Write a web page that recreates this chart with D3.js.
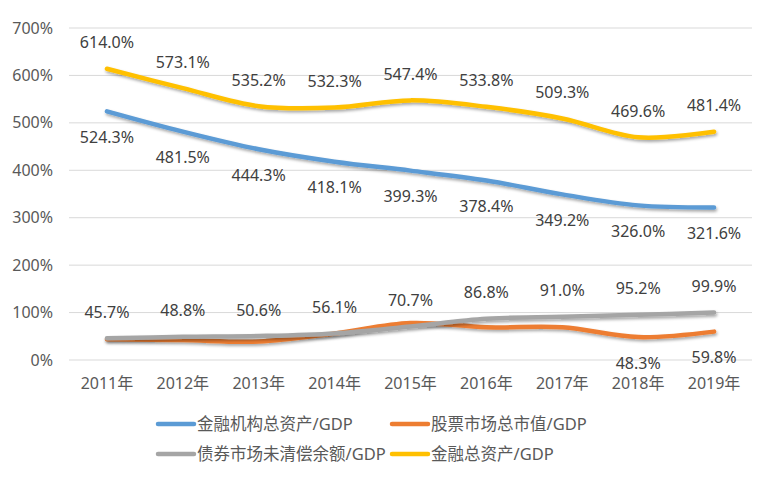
<!DOCTYPE html>
<html>
<head>
<meta charset="utf-8">
<script src="https://d3js.org/d3.v7.min.js"></script>
<style>
  body { margin: 0; background: #fff; overflow: hidden; }
  svg text { font-family: "Noto Sans", "Noto Sans CJK SC", sans-serif; }
</style>
</head>
<body>
<svg></svg>
<script>
const years = ["2011年", "2012年", "2013年", "2014年", "2015年", "2016年", "2017年", "2018年", "2019年"];
const instAssets = [524.3, 481.5, 444.3, 418.1, 399.3, 378.4, 349.2, 326.0, 321.6];
const stockCap = [44, 42, 39, 56, 78, 69, 69, 48.3, 59.8];
const bondOut = [45.7, 48.8, 50.6, 56.1, 70.7, 86.8, 91.0, 95.2, 99.9];
const totalAssets = [614.0, 573.1, 535.2, 532.3, 547.4, 533.8, 509.3, 469.6, 481.4];
const yTicks = [0, 100, 200, 300, 400, 500, 600, 700];

const width = 769, height = 483;
const svg = d3.select("svg").attr("width", width).attr("height", height);

const defs = svg.append("defs");
defs.append("filter").attr("id", "shadow")
    .attr("x", "-10%").attr("y", "-50%").attr("width", "120%").attr("height", "200%")
  .append("feDropShadow")
    .attr("dx", 1).attr("dy", 2).attr("stdDeviation", 1.5)
    .attr("flood-color", "#000").attr("flood-opacity", 0.35);

const x = d3.scaleBand().domain(years).range([69, 752]);
const y = d3.scaleLinear().domain([0, 700]).range([360, 28]);
const cx = d => x(d) + x.bandwidth() / 2;

// gridlines
svg.append("g").selectAll("line").data(yTicks).join("line")
    .attr("x1", 69).attr("x2", 752)
    .attr("y1", d => y(d)).attr("y2", d => y(d))
    .attr("stroke", "#d9d9d9").attr("stroke-width", 1);

// y axis labels
svg.append("g").selectAll("text").data(yTicks).join("text")
    .attr("x", 53).attr("y", d => y(d))
    .attr("dy", "0.35em").attr("text-anchor", "end")
    .attr("font-size", 16).attr("fill", "#595959")
    .text(d => d + "%");

// x axis labels
svg.append("g").selectAll("text").data(years).join("text")
    .attr("x", d => cx(d)).attr("y", 389)
    .attr("text-anchor", "middle")
    .attr("font-size", 16).attr("fill", "#595959")
    .text(d => d);

const series = [
  { name: "金融机构总资产/GDP", values: instAssets, color: "#5B9BD5", pos: "below", show: years.map(() => true) },
  { name: "股票市场总市值/GDP", values: stockCap, color: "#ED7D31", pos: "below", show: years.map((d, i) => i >= 7) },
  { name: "债券市场未清偿余额/GDP", values: bondOut, color: "#A5A5A5", pos: "above", show: years.map(() => true) },
  { name: "金融总资产/GDP", values: totalAssets, color: "#FFC000", pos: "above", show: years.map(() => true) }
];

const line = d3.line()
    .x((d, i) => cx(years[i]))
    .y(d => y(d))
    .curve(d3.curveCatmullRom.alpha(0.5));

series.forEach(s => {
  svg.append("path")
      .datum(s.values)
      .attr("d", line)
      .attr("fill", "none")
      .attr("stroke", s.color)
      .attr("stroke-width", 4.5)
      .attr("stroke-linecap", "round")
      .attr("filter", "url(#shadow)");
});

series.forEach(s => {
  svg.append("g").selectAll("text")
    .data(s.values.map((v, i) => ({ v, i })).filter(d => s.show[d.i]))
    .join("text")
      .attr("x", d => cx(years[d.i]))
      .attr("y", d => y(d.v) + (s.pos === "above" ? -26 : 26))
      .attr("dy", "0.35em")
      .attr("text-anchor", "middle")
      .attr("font-size", 16).attr("fill", "#404040")
      .text(d => d.v.toFixed(1) + "%");
});

// legend
const legendPos = [
  { x: 157, y: 424 }, { x: 391, y: 424 },
  { x: 157, y: 454 }, { x: 391, y: 454 }
];
series.forEach((s, k) => {
  const p = legendPos[k];
  const g = svg.append("g").attr("transform", `translate(${p.x},${p.y})`);
  g.append("line").attr("x1", 1).attr("x2", 37).attr("y1", 0).attr("y2", 0)
      .attr("stroke", s.color).attr("stroke-width", 4.5).attr("stroke-linecap", "round");
  g.append("text").attr("x", 40).attr("y", 0).attr("dy", "0.35em")
      .attr("font-size", 16.5).attr("fill", "#595959")
      .text(s.name);
});
</script>
</body>
</html>
